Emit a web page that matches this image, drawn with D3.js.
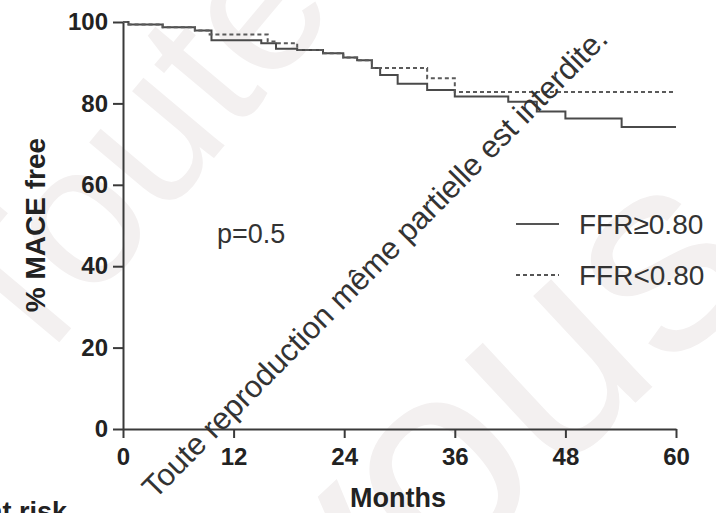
<!DOCTYPE html>
<html>
<head>
<meta charset="utf-8">
<script src="https://cdn.jsdelivr.net/npm/d3@7"></script>
<style>
  body { margin: 0; background: #fff; }
  svg { font-family: "Liberation Sans", Arial, sans-serif; }
</style>
</head>
<body>
<div id="chart"></div>
<script>
// Kaplan-Meier steps: [month, % MACE free]
const ffrHigh = [
  [0, 100], [0.6, 99.4], [4.3, 98.7], [7.8, 97.9], [9.6, 95.5],
  [15.0, 94.8], [16.6, 93.4], [18.9, 93.1], [21.7, 92.3], [23.9, 91.3],
  [25.4, 90.6], [27.0, 88.7], [27.9, 87.0], [29.8, 84.8], [33.0, 83.3],
  [36.0, 81.7], [41.8, 80.4], [44.9, 78.0], [48.0, 76.3], [54.1, 74.2],
  [60, 74.2]
];
const ffrLow = [
  [0, 100], [0.6, 99.4], [4.3, 98.7], [7.8, 97.9], [9.4, 96.9],
  [15.7, 95.2], [16.6, 94.8], [18.9, 93.1], [21.7, 92.3], [23.9, 91.3],
  [25.4, 90.6], [27.0, 88.7], [33.0, 86.2], [36.0, 82.8], [60, 82.8]
];
const xTicks = [0, 12, 24, 36, 48, 60];
const yTicks = [0, 20, 40, 60, 80, 100];
const legendLabels = ["FFR\u22650.80", "FFR<0.80"];

const width = 716, height = 513;
const margin = { top: 22, right: 40, bottom: 84, left: 123 };

const svg = d3.select("#chart")
  .append("svg")
  .attr("width", width)
  .attr("height", height);

// faint background watermark
const bg = svg.append("g").attr("fill", "#f3f0f0");
bg.append("text")
  .attr("transform", "translate(26, 382) rotate(-50)")
  .style("font-size", "200px")
  .text("Toute");
bg.append("text")
  .attr("transform", "translate(336, 682) rotate(-43)")
  .style("font-size", "280px")
  .text("vous");

const x = d3.scaleLinear().domain([0, 60]).range([margin.left, width - margin.right]);
const y = d3.scaleLinear().domain([0, 100]).range([height - margin.bottom, margin.top]);

const ink = "#3a3a3a";

// axes
const xAxis = svg.append("g")
  .attr("transform", `translate(0, ${y(0)})`)
  .call(d3.axisBottom(x).tickValues(xTicks).tickSize(9).tickPadding(10).tickSizeOuter(0));
const yAxis = svg.append("g")
  .attr("transform", `translate(${x(0)}, 0)`)
  .call(d3.axisLeft(y).tickValues(yTicks).tickSize(10).tickPadding(5).tickSizeOuter(0));

[xAxis, yAxis].forEach(g => {
  g.selectAll("path, line").attr("stroke", ink).attr("stroke-width", 2);
  g.selectAll("text")
    .attr("fill", "#222")
    .style("font-size", "24px")
    .style("font-weight", "bold")
    .style("font-family", "'Liberation Sans', Arial, sans-serif");
});

// curves
const line = d3.line()
  .x(d => x(d[0]))
  .y(d => y(d[1]))
  .curve(d3.curveStepAfter);

svg.append("path")
  .datum(ffrHigh)
  .attr("fill", "none")
  .attr("stroke", "#4a4a4a")
  .attr("stroke-width", 2)
  .attr("d", line);

svg.append("path")
  .datum(ffrLow)
  .attr("fill", "none")
  .attr("stroke", "#5a5a5a")
  .attr("stroke-width", 2)
  .attr("stroke-dasharray", "4,3")
  .attr("d", line);

// axis titles
svg.append("text")
  .attr("transform", `translate(45, 225) rotate(-90)`)
  .attr("text-anchor", "middle")
  .style("font-size", "28px")
  .style("font-weight", "bold")
  .attr("fill", "#222")
  .text("% MACE free");

svg.append("text")
  .attr("x", 398)
  .attr("y", 507)
  .attr("text-anchor", "middle")
  .style("font-size", "27px")
  .style("font-weight", "bold")
  .attr("fill", "#222")
  .text("Months");

svg.append("text")
  .attr("x", 67)
  .attr("y", 521)
  .attr("text-anchor", "end")
  .style("font-size", "27px")
  .style("font-weight", "bold")
  .attr("fill", "#222")
  .text("at risk");

// p value
svg.append("text")
  .attr("x", 217)
  .attr("y", 243)
  .style("font-size", "27px")
  .attr("fill", "#333")
  .text("p=0.5");

// legend
const legend = svg.append("g").attr("transform", "translate(516, 224)");
legendLabels.forEach((lab, i) => {
  const g = legend.append("g").attr("transform", `translate(0, ${i * 51})`);
  g.append("line")
    .attr("x1", 0).attr("x2", 43)
    .attr("stroke", "#555")
    .attr("stroke-width", 2)
    .attr("stroke-dasharray", i === 1 ? "4,3" : null);
  g.append("text")
    .attr("x", 63)
    .attr("y", 10)
    .style("font-size", "28px")
    .attr("fill", "#333")
    .text(lab);
});

// watermark
svg.append("text")
  .attr("transform", "translate(155, 500) rotate(-45.3)")
  .style("font-size", "31px")
  .attr("fill", "#333")
  .text("Toute reproduction m\u00eame partielle est interdite.");
</script>
</body>
</html>
